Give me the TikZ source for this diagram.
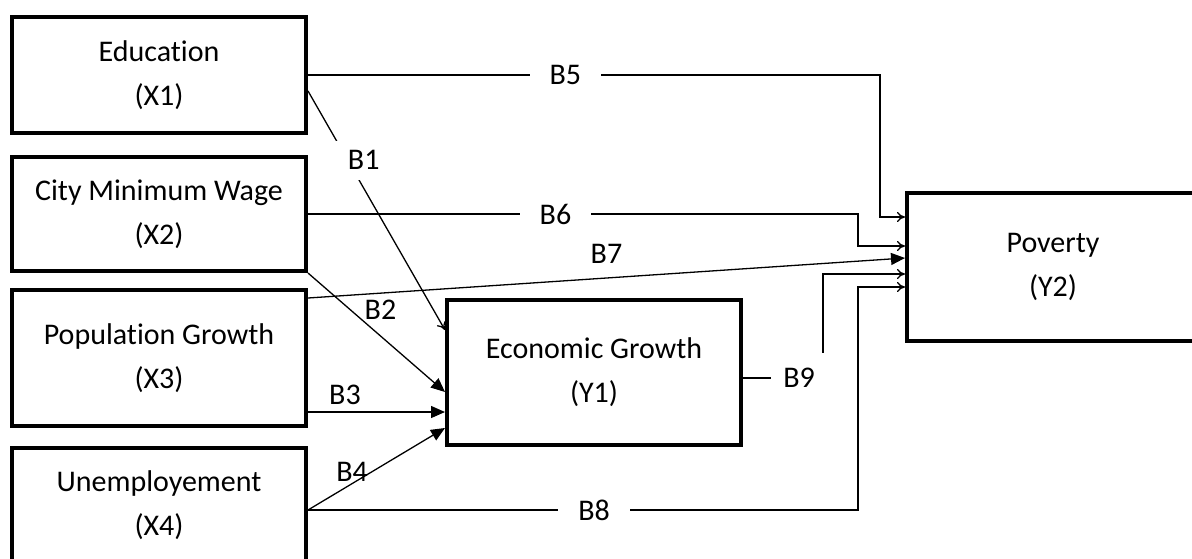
\documentclass[tikz,border=0pt]{standalone}
\usepackage{fontspec}
\setmainfont{Carlito}[Ligatures=NoCommon]
\usetikzlibrary{arrows.meta}
\tikzset{
  var/.style={draw, line width=2pt, align=center, minimum width=147pt,
    font=\fontsize{15}{22}\selectfont},
  lbl/.style={font=\fontsize{15}{17}\selectfont},
  gap/.style={lbl, fill=white, inner xsep=10pt, inner ysep=5pt},
}
\begin{document}
\begin{tikzpicture}[x=0.5pt,y=-0.5pt,line width=0.65pt]
  \useasboundingbox (0,0) rectangle (1192,558);
  \draw
    (159,75) node[var,minimum height=58pt] (x1){Education\\(X1)}
    (159,214) node[var,minimum height=57pt] (x2){City Minimum Wage\\(X2)}
    (159,358) node[var,minimum height=68pt] (x3){Population Growth\\(X3)}
    (159,505) node[var,minimum height=57pt] (x4){Unemployement\\(X4)}
    (594,372) node[var,minimum height=72.5pt] (y1){Economic Growth\\(Y1)}
    (1053,267) node[var,minimum width=146pt,minimum height=74pt] (y2){Poverty\\(Y2)};
  \coordinate (p5) at (905,217);
  \coordinate (p6) at (905,246);
  \coordinate (p7) at (905,258);
  \coordinate (p9) at (905,274);
  \coordinate (p8) at (905,287);
  \coordinate (k5) at (880,0);
  \coordinate (k6) at (858,0);
  \coordinate (k9) at (823,0);
  \coordinate (s1) at ([yshift=-8pt]x1.east);
  \coordinate (s7) at ([yshift=-5pt]x3.north east);
  \coordinate (s8) at ([yshift=-2.5pt]x4.east);
  \coordinate (s9) at ([yshift=-3pt]y1.east);
  \coordinate (e1) at ([yshift=21pt]y1.west);
  \coordinate (e2) at ([yshift=-10pt]y1.west);
  \coordinate (e3) at ([yshift=-20pt]y1.west);
  \coordinate (e4) at ([yshift=-28pt]y1.west);
  \begin{scope}[-{To[length=4pt,width=5pt]}]
    \draw (x1.east) -- node[gap,pos=0.45]{B5} (x1.east -| k5) |- (p5);
    \draw (x2.east) -- node[gap,pos=0.45]{B6} (x2.east -| k6) |- (p6);
    \draw (s8) -- node[gap,pos=0.52]{B8} (s8 -| k6) |- (p8);
    \draw (s1) -- node[gap,pos=0.29,xshift=8pt]{B1} (e1);
    \draw (s9) -- (s9 -| k9) |- (p9);
  \end{scope}
  \node[gap,minimum width=28pt,minimum height=25pt,inner sep=0pt] (l9) at (799,378) {B9};
  \begin{scope}[-{Triangle[length=7pt,width=6pt]}]
    \draw (x2.south east) -- node[lbl,pos=0.31,xshift=15pt]{B2} (e2);
    \draw (x3.east |- e3) -- node[lbl,pos=0.27,above]{B3} (e3);
    \draw (s8) -- node[lbl,pos=0.3,xshift=1.5pt,yshift=7pt]{B4} (e4);
    \draw (s7) -- node[lbl,midway,yshift=12pt]{B7} (p7);
  \end{scope}
\end{tikzpicture}
\end{document}
